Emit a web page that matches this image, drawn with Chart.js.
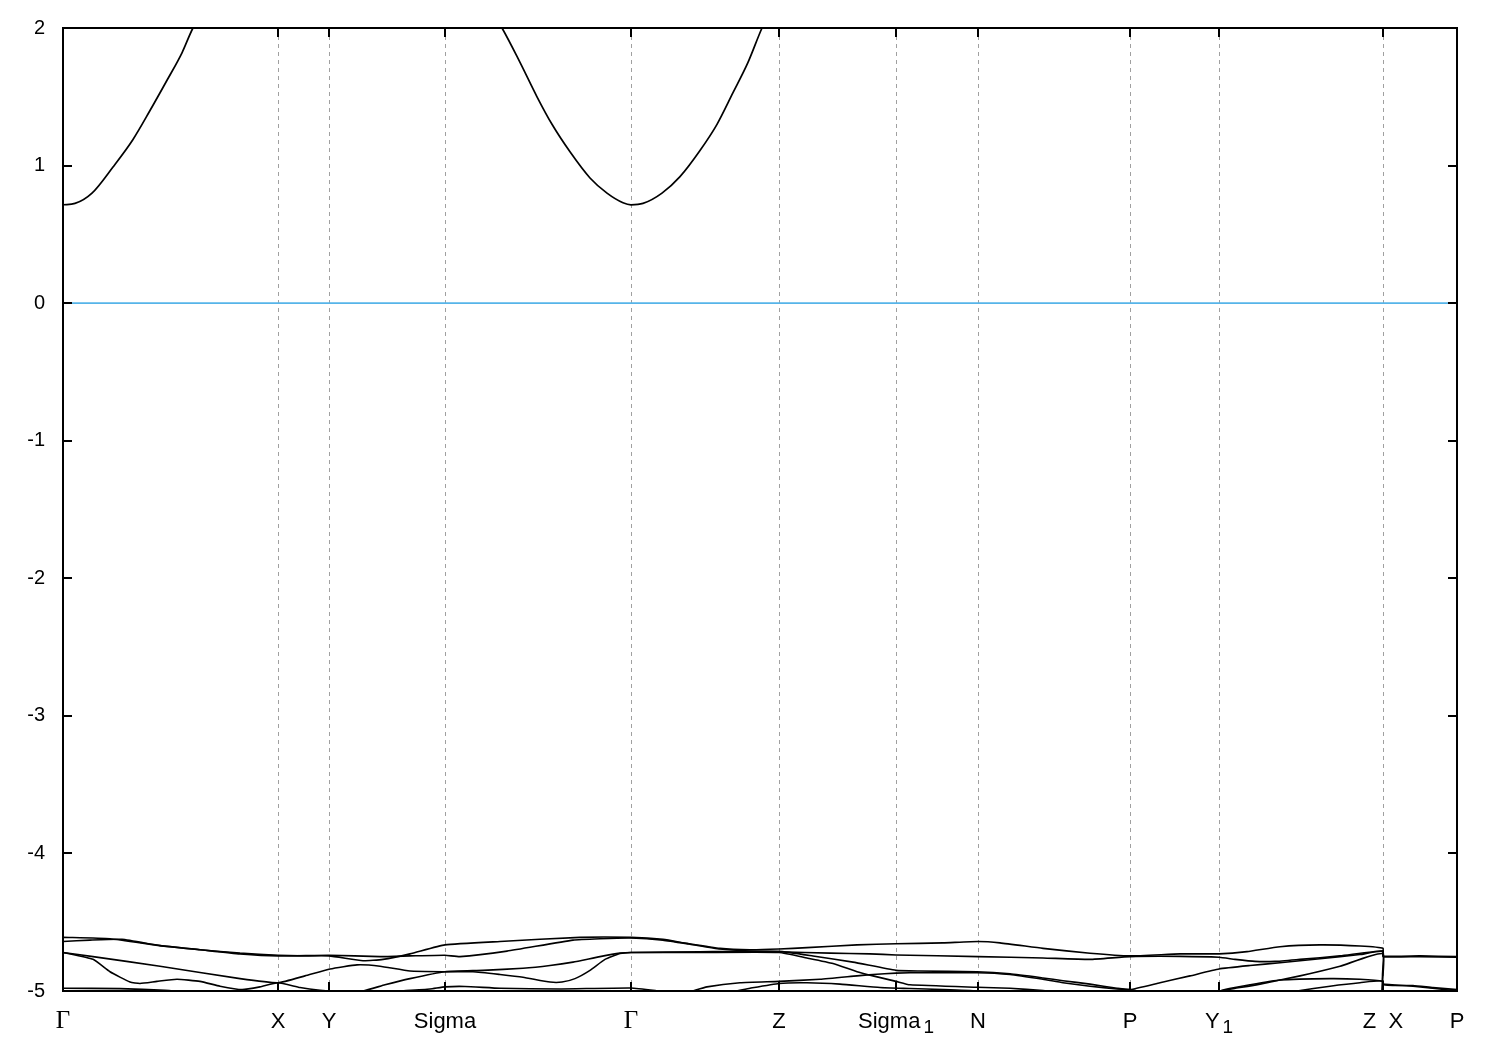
<!DOCTYPE html>
<html>
<head>
<meta charset="utf-8">
<script src="https://cdn.jsdelivr.net/npm/chart.js@4.4.1/dist/chart.umd.min.js"></script>
<style>
  html, body { margin: 0; padding: 0; background: #ffffff; }
  #wrap { width: 1500px; height: 1050px; }
</style>
</head>
<body>
<div id="wrap"><canvas id="c" width="1500" height="1050"></canvas></div>
<script>
// ---- k-path (high-symmetry points) ----
const kLabelPos  = [0, 0.215, 0.266, 0.382, 0.568, 0.716, 0.833, 0.915, 1.067, 1.156, 1.320, 1.394];
const kLabelText = ['Γ', 'X', 'Y', 'Sigma', 'Γ', 'Z', 'Sigma', 'N', 'P', 'Y', 'Z  X', 'P'];
const kLabelSub  = ['', '', '', '', '', '', '1', '', '', '1', '', ''];
const kGridPos   = [0.215, 0.266, 0.382, 0.568, 0.716, 0.833, 0.915, 1.067, 1.156, 1.320];

// ---- energy axis ----
const eMin = -5, eMax = 2, eStep = 1;
const fermiLevel = [[0, 0], [1.394, 0]];

// ---- bands: [k, E(eV)] ----
const bandCond = [[0,0.715],[0.012,0.725],[0.029,0.80],[0.050,0.99],[0.070,1.19],[0.087,1.40],[0.104,1.62],[0.119,1.82],[0.130,2.0],[0.167,2.40],[0.215,2.70],[0.266,2.85],[0.382,2.60],[0.417,2.25],[0.439,2.0],[0.457,1.75],[0.474,1.50],[0.489,1.30],[0.507,1.10],[0.527,0.91],[0.544,0.80],[0.560,0.73],[0.568,0.715],[0.580,0.725],[0.599,0.80],[0.617,0.92],[0.637,1.11],[0.654,1.30],[0.670,1.53],[0.685,1.75],[0.699,2.0],[0.716,2.25],[0.833,2.9],[0.915,3.1],[1.067,3.0],[1.156,2.9],[1.320,2.6],[1.394,2.7]];

const bandA = [[0,-4.61],[0.047,-4.62],[0.097,-4.67],[0.137,-4.70],[0.177,-4.725],[0.215,-4.74],[0.237,-4.745],[0.266,-4.745],[0.300,-4.78],[0.320,-4.77],[0.347,-4.73],[0.382,-4.665],[0.437,-4.64],[0.517,-4.61],[0.568,-4.61],[0.600,-4.625],[0.624,-4.654],[0.657,-4.69],[0.687,-4.70],[0.716,-4.695],[0.744,-4.685],[0.794,-4.665],[0.833,-4.657],[0.880,-4.65],[0.915,-4.64],[0.937,-4.65],[0.980,-4.69],[1.027,-4.726],[1.067,-4.745],[1.117,-4.73],[1.156,-4.73],[1.184,-4.714],[1.217,-4.678],[1.257,-4.665],[1.297,-4.673],[1.320,-4.69],[1.320,-4.745],[1.357,-4.745],[1.394,-4.75]];

const bandB = [[0,-4.64],[0.027,-4.63],[0.059,-4.625],[0.097,-4.67],[0.137,-4.70],[0.177,-4.73],[0.215,-4.745],[0.266,-4.74],[0.317,-4.75],[0.347,-4.745],[0.382,-4.74],[0.397,-4.75],[0.444,-4.71],[0.510,-4.63],[0.537,-4.62],[0.568,-4.615],[0.600,-4.63],[0.627,-4.66],[0.657,-4.695],[0.687,-4.71],[0.716,-4.715],[0.767,-4.725],[0.807,-4.73],[0.833,-4.738],[0.915,-4.75],[0.980,-4.76],[1.027,-4.77],[1.067,-4.75],[1.117,-4.748],[1.156,-4.755],[1.172,-4.77],[1.192,-4.785],[1.212,-4.785],[1.237,-4.77],[1.277,-4.745],[1.320,-4.707],[1.320,-4.75],[1.357,-4.75],[1.394,-4.755]];

const bandC = [[0,-4.72],[0.030,-4.75],[0.097,-4.82],[0.177,-4.91],[0.215,-4.94],[0.242,-4.89],[0.267,-4.84],[0.294,-4.81],[0.317,-4.82],[0.347,-4.855],[0.382,-4.86],[0.410,-4.86],[0.437,-4.88],[0.460,-4.90],[0.487,-4.935],[0.499,-4.935],[0.512,-4.91],[0.527,-4.85],[0.542,-4.77],[0.557,-4.728],[0.568,-4.72],[0.637,-4.715],[0.716,-4.712],[0.750,-4.745],[0.790,-4.79],[0.833,-4.85],[0.857,-4.855],[0.914,-4.86],[0.947,-4.875],[0.980,-4.905],[1.000,-4.925],[1.027,-4.95],[1.054,-4.98],[1.067,-4.99],[1.097,-4.94],[1.127,-4.89],[1.156,-4.84],[1.187,-4.815],[1.217,-4.795],[1.257,-4.765],[1.297,-4.735],[1.320,-4.715],[1.320,-4.95],[1.350,-4.96],[1.370,-4.975],[1.394,-4.99]];

const bandD = [[0,-4.72],[0.030,-4.77],[0.047,-4.86],[0.067,-4.935],[0.077,-4.945],[0.094,-4.93],[0.114,-4.915],[0.137,-4.93],[0.157,-4.965],[0.179,-4.99],[0.197,-4.97],[0.215,-4.94],[0.237,-4.975],[0.257,-4.995],[0.277,-5.005],[0.300,-5.0],[0.322,-4.955],[0.347,-4.91],[0.382,-4.86],[0.420,-4.85],[0.460,-4.835],[0.487,-4.815],[0.510,-4.79],[0.537,-4.75],[0.557,-4.725],[0.568,-4.72],[0.637,-4.72],[0.716,-4.72],[0.744,-4.76],[0.770,-4.80],[0.794,-4.86],[0.810,-4.89],[0.833,-4.93],[0.847,-4.955],[0.914,-4.973],[0.947,-4.98],[0.980,-4.997],[1.007,-5.02],[1.067,-5.08],[1.127,-5.05],[1.156,-5.0],[1.177,-4.975],[1.197,-4.95],[1.237,-4.89],[1.277,-4.82],[1.320,-4.73],[1.320,-5.1],[1.394,-5.1]];

const bandE = [[0,-4.98],[0.057,-4.983],[0.102,-4.995],[0.127,-5.01],[0.187,-5.03],[0.267,-5.03],[0.317,-5.01],[0.337,-5.0],[0.367,-4.985],[0.382,-4.97],[0.402,-4.967],[0.437,-4.98],[0.497,-4.985],[0.568,-4.978],[0.594,-4.998],[0.617,-5.02],[0.657,-5.02],[0.687,-4.98],[0.716,-4.945],[0.744,-4.94],[0.777,-4.95],[0.817,-4.975],[0.847,-4.982],[0.880,-4.99],[0.914,-5.0],[0.947,-5.02],[1.067,-5.1],[1.187,-5.05],[1.234,-5.0],[1.267,-4.965],[1.297,-4.94],[1.320,-4.93],[1.320,-5.1],[1.394,-5.1]];

const bandF = [[0,-5.03],[0.237,-5.08],[0.437,-5.08],[0.568,-5.06],[0.617,-5.02],[0.627,-5.005],[0.644,-4.97],[0.677,-4.94],[0.716,-4.93],[0.757,-4.915],[0.794,-4.89],[0.810,-4.88],[0.833,-4.87],[0.847,-4.867],[0.914,-4.867],[0.947,-4.88],[0.980,-4.915],[1.000,-4.94],[1.027,-4.965],[1.054,-4.985],[1.067,-4.99],[1.087,-5.02],[1.137,-5.04],[1.162,-4.99],[1.187,-4.955],[1.217,-4.92],[1.267,-4.91],[1.297,-4.915],[1.320,-4.93],[1.320,-4.95],[1.350,-4.965],[1.394,-5.0]];

const valenceBands = [bandA, bandB, bandC, bandD, bandE, bandF];

const datasets = [
  { data: fermiLevel, borderColor: '#56b4e9', borderWidth: 1.6, tension: 0 },
  { data: bandCond, borderColor: '#000000', borderWidth: 1.7, cubicInterpolationMode: 'monotone' }
].concat(valenceBands.map(b => ({ data: b, borderColor: '#000000', borderWidth: 1.6, tension: 0.15 })));

const frame = {
  id: 'frame',
  beforeDatasetsDraw(chart) {
    const { ctx, chartArea: a, scales: { x } } = chart;
    ctx.save();
    ctx.strokeStyle = '#a0a0a0';
    ctx.lineWidth = 1;
    ctx.setLineDash([4, 4]);
    kGridPos.forEach(k => {
      const px = Math.round(x.getPixelForValue(k)) + 0.5;
      ctx.beginPath(); ctx.moveTo(px, a.top); ctx.lineTo(px, a.bottom); ctx.stroke();
    });
    ctx.restore();
  },
  afterDatasetsDraw(chart) {
    const { ctx, chartArea: a, scales: { x, y } } = chart;
    ctx.save();
    ctx.strokeStyle = '#000';
    ctx.lineWidth = 2;
    ctx.setLineDash([]);
    ctx.strokeRect(a.left, a.top, a.right - a.left, a.bottom - a.top);
    const tl = 9;
    ctx.beginPath();
    for (let v = eMin; v <= eMax; v += eStep) {
      const py = Math.round(y.getPixelForValue(v));
      ctx.moveTo(a.left, py); ctx.lineTo(a.left + tl, py);
      ctx.moveTo(a.right, py); ctx.lineTo(a.right - tl, py);
    }
    kGridPos.forEach(k => {
      const px = Math.round(x.getPixelForValue(k));
      ctx.moveTo(px, a.bottom); ctx.lineTo(px, a.bottom - tl);
      ctx.moveTo(px, a.top); ctx.lineTo(px, a.top + tl);
    });
    ctx.stroke();

    // k-point labels
    ctx.fillStyle = '#000';
    ctx.textBaseline = 'alphabetic';
    const base = a.bottom + 37;
    const mainFont = '22px "Liberation Sans", Arial, sans-serif';
    const greekFont = '25px "Liberation Serif", "Times New Roman", serif';
    const subFont = '19px "Liberation Sans", Arial, sans-serif';
    kLabelPos.forEach((k, i) => {
      const px = x.getPixelForValue(k);
      const txt = kLabelText[i];
      const sub = kLabelSub[i];
      ctx.font = (txt === 'Γ') ? greekFont : mainFont;
      const w1 = ctx.measureText(txt).width;
      let w2 = 0, gap = 0;
      if (sub) { ctx.font = subFont; w2 = ctx.measureText(sub).width; gap = 3; }
      const x0 = px - (w1 + gap + w2) / 2;
      ctx.font = (txt === 'Γ') ? greekFont : mainFont;
      ctx.textAlign = 'left';
      ctx.fillText(txt, x0, base);
      if (sub) { ctx.font = subFont; ctx.fillText(sub, x0 + w1 + gap, base + 5); }
    });
    ctx.restore();
  }
};

new Chart(document.getElementById('c'), {
  type: 'line',
  data: { datasets },
  options: {
    responsive: false,
    animation: false,
    devicePixelRatio: 1,
    layout: { padding: { left: 0, top: 28, right: 43, bottom: 59 } },
    elements: { point: { radius: 0 } },
    datasets: { line: { clip: 1, pointRadius: 0, fill: false } },
    plugins: { legend: { display: false }, tooltip: { enabled: false } },
    scales: {
      x: { type: 'linear', min: 0, max: 1.394, display: false },
      y: {
        type: 'linear', min: eMin, max: eMax,
        afterFit(scale) { scale.width = 63; scale.paddingTop = 0; scale.paddingBottom = 0; },
        border: { display: false },
        grid: { display: false, drawTicks: false },
        ticks: {
          stepSize: eStep, padding: 18, color: '#000',
          font: { family: '"Liberation Sans", Arial, sans-serif', size: 20, lineHeight: 1 }
        }
      }
    }
  },
  plugins: [frame]
});
</script>
</body>
</html>
